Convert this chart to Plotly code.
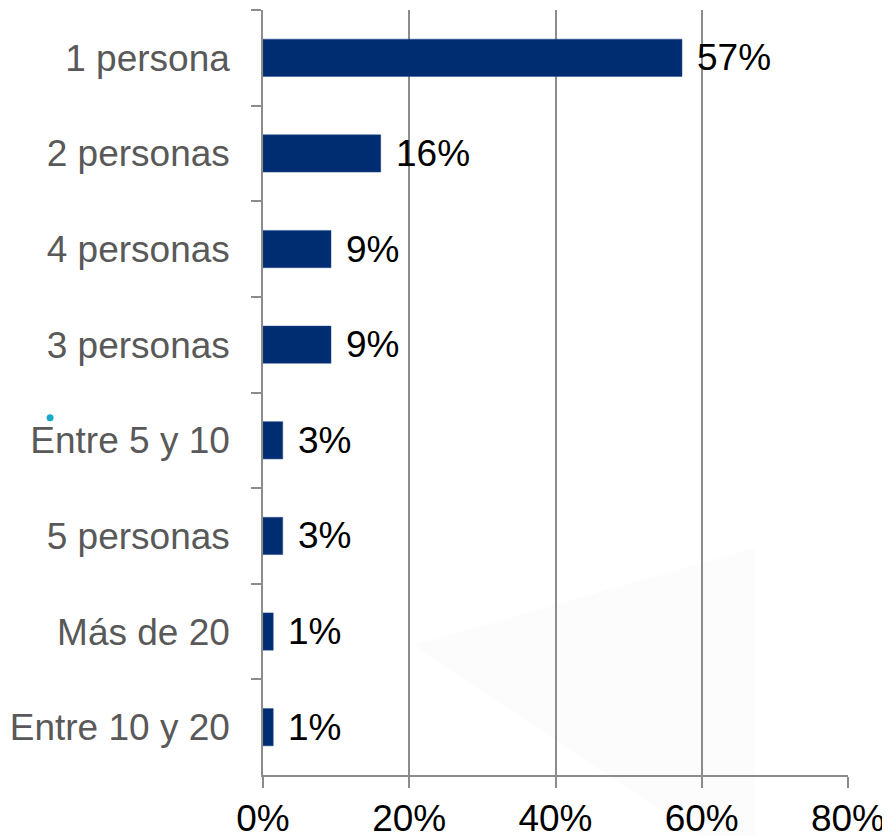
import plotly.graph_objects as go

# Tamaño del hogar / grupo
categorias = ["1 persona", "2 personas", "4 personas", "3 personas",
              "Entre 5 y 10", "5 personas", "Más de 20", "Entre 10 y 20"]
porcentajes = [57.3, 16.1, 9.3, 9.3, 2.7, 2.7, 1.4, 1.4]
etiquetas = ["57%", "16%", "9%", "9%", "3%", "3%", "1%", "1%"]
ticks_x = [0, 20, 40, 60, 80]

fnt = "Liberation Sans, Arial, sans-serif"
gris = "#8c8c8c"

fig = go.Figure()
fig.add_trace(go.Bar(
    x=porcentajes, y=categorias, orientation="h",
    marker=dict(color="#002D72", line=dict(color="#2a4f8a", width=0.5)),
    hoverinfo="skip",
))

for v, c, t in zip(porcentajes, categorias, etiquetas):
    fig.add_annotation(x=v, y=c, text=t, showarrow=False, xanchor="left",
                       xshift=13, font=dict(family=fnt, size=37, color="black"))

# decoración de fondo
fig.add_shape(type="path", xref="paper", yref="paper", layer="below",
              path="M 0.256 0.170 L 0.841 0.297 L 0.841 -0.08 L 0.747 -0.08 Z",
              fillcolor="rgba(0,0,0,0.013)", line=dict(width=0))
fig.add_shape(type="circle", xref="paper", yref="paper", xsizemode="pixel",
              ysizemode="pixel", xanchor=-0.364, yanchor=0.467,
              x0=-3.5, x1=3.5, y0=-3.5, y1=3.5,
              fillcolor="#17a9c9", line=dict(width=0))

# la página añade 8px de margen al cuerpo
fig.update_layout(
    width=882, height=828,
    margin=dict(l=255, r=42, t=2, b=61),
    paper_bgcolor="white", plot_bgcolor="white",
    showlegend=False, bargap=0.61,
    font=dict(family=fnt, size=37),
)
fig.update_xaxes(
    range=[0, 80], tickvals=ticks_x, ticktext=[f"{t}%" for t in ticks_x],
    showgrid=True, gridcolor=gris, gridwidth=1.5, zeroline=False,
    showline=True, linecolor=gris, linewidth=1.5,
    ticks="outside", ticklen=11, tickcolor=gris, tickwidth=1.5,
    tickfont=dict(family=fnt, size=37, color="black"),
    ticklabelstandoff=-1, automargin=False,
)
fig.update_yaxes(
    autorange="reversed", tickson="boundaries",
    showline=True, linecolor=gris, linewidth=1.5,
    ticks="outside", ticklen=10, tickcolor=gris, tickwidth=1.5,
    showgrid=False, zeroline=False,
    tickfont=dict(family=fnt, size=37, color="#595959"),
    ticklabelstandoff=24, automargin=False,
)

fig.write_html("out.html")
